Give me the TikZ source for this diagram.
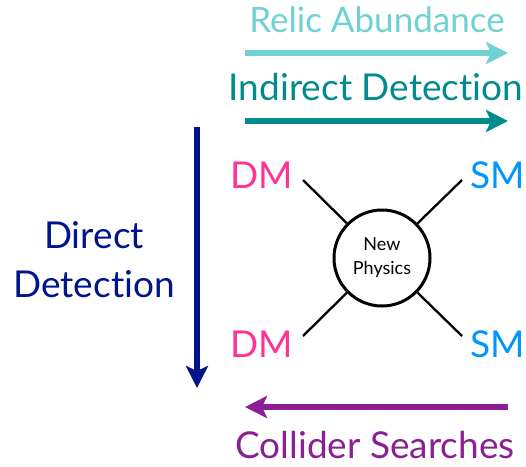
\documentclass[tikz,border=0pt]{standalone}
\usepackage{fontspec}
\setmainfont{Lato}[Ligatures={NoCommon,NoRare}]
\usetikzlibrary{arrows.meta}

\definecolor{relic}{RGB}{110,210,210}
\definecolor{indirect}{RGB}{0,140,140}
\definecolor{direct}{RGB}{0,20,140}
\definecolor{dmpink}{RGB}{255,50,150}
\definecolor{smblue}{RGB}{0,150,255}
\definecolor{collider}{RGB}{140,30,150}

\tikzset{bigarrow/.style={line width=5.5pt,
    -{Stealth[length=22pt,width=22pt,inset=5pt]}},
  lbl/.style={font=\fontsize{37}{44}\selectfont,inner sep=0pt,anchor=base},
  leg/.style={line width=2.3pt}}

\begin{document}
\begin{tikzpicture}[x=1pt,y=-1pt]
  \useasboundingbox (0,0) rectangle (526,466);
  % labels of the four channels
  \node[lbl,relic,font=\fontsize{35}{42}\selectfont] (relic) at (377,32) {Relic Abundance};
  \node[lbl,indirect] (indirect) at (376,100) {Indirect Detection};
  \node[lbl,direct] (direct) at (94,248) {Direct};
  \node[lbl,direct] (detection) at (94,297) {Detection};
  \node[lbl,collider] (collider) at (375,458) {Collider Searches};
  % arrow ends
  \coordinate (relicL) at (245,53); \coordinate (relicR) at (508,53);
  \coordinate (indL) at (245,121); \coordinate (indR) at (508,121);
  \coordinate (dirT) at (197,127); \coordinate (dirB) at (197,388);
  \coordinate (colL) at (245,407); \coordinate (colR) at (508,407);
  \draw[bigarrow,relic] (relicL) -- (relicR);
  \draw[bigarrow,indirect] (indL) -- (indR);
  \draw[bigarrow,direct] (dirT) -- (dirB);
  \draw[bigarrow,collider] (colR) -- (colL);
  % the vertex
  \node[lbl,dmpink] (dm1) at (262,188) {DM};
  \node[lbl,dmpink] (dm2) at (262,357) {DM};
  \node[lbl,smblue] (sm1) at (498,188) {SM};
  \node[lbl,smblue] (sm2) at (498,357) {SM};
  \node[draw,circle,line width=3pt,minimum size=96pt,inner sep=0pt,
    align=center,font=\fontsize{18}{24}\selectfont] (np) at (382,258) {New\\Physics};
  \coordinate (legTL) at (303,180); \coordinate (legTR) at (462,180);
  \coordinate (legBL) at (303,336); \coordinate (legBR) at (462,336);
  \foreach \c in {legTL,legTR,legBL,legBR}
    \draw[leg] (\c) -- (np);
\end{tikzpicture}
\end{document}
